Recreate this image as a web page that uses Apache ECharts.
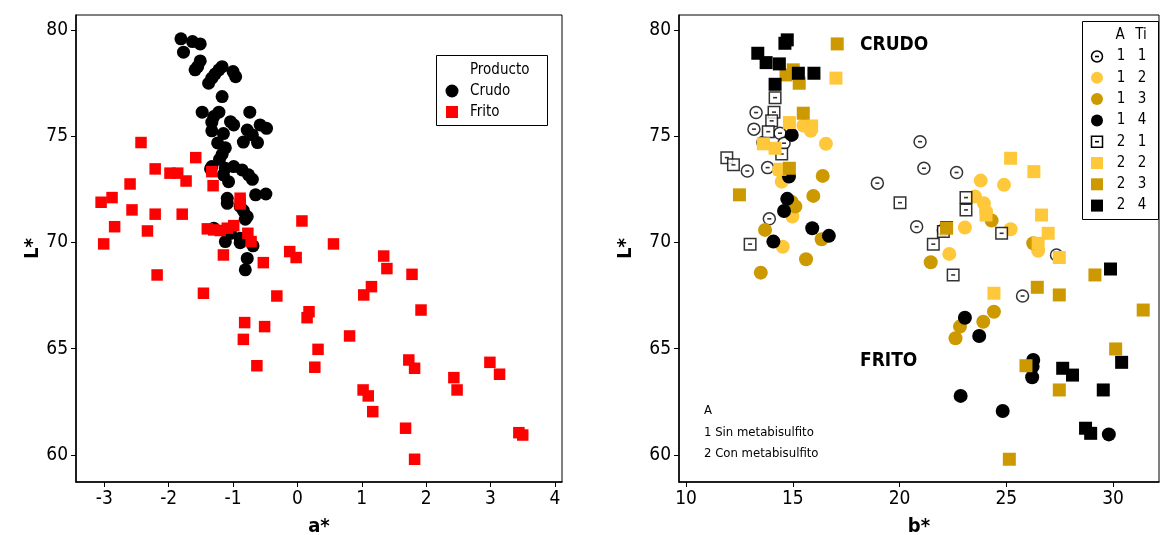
<!DOCTYPE html>
<html><head><meta charset="utf-8">
<script src="https://cdn.jsdelivr.net/npm/echarts@6/dist/echarts.min.js"></script>
<style>html,body{margin:0;padding:0;background:#fff}#c{width:1161px;height:535px}</style>
</head><body><div id="c"></div>
<script>
// ---------- DATA ----------
// Left panel: a* vs L*
const crudo = [[-1.81,79.58],[-1.63,79.45],[-1.51,79.34],[-1.77,78.95],[-1.51,78.54],[-1.55,78.27],[-1.59,78.12],[-1.17,78.27],[-1.22,78.12],[-1.28,77.92],[-1.33,77.73],[-1.38,77.49],[-1.00,78.04],[-0.96,77.80],[-1.17,76.86],[-1.48,76.13],[-1.22,76.13],[-1.30,75.92],[-0.74,76.13],[-1.33,75.66],[-1.04,75.68],[-0.99,75.53],[-0.58,75.53],[-0.48,75.37],[-1.33,75.25],[-1.15,75.12],[-0.78,75.29],[-0.70,75.06],[-0.84,74.72],[-0.62,74.70],[-1.24,74.68],[-1.12,74.45],[-1.17,74.15],[-1.21,73.91],[-1.33,73.57],[-1.35,73.46],[-1.12,73.49],[-0.99,73.57],[-0.86,73.41],[-0.76,73.18],[-0.70,72.97],[-1.15,73.18],[-1.07,72.86],[-0.65,72.24],[-0.49,72.28],[-1.09,72.08],[-1.09,71.84],[-0.89,71.69],[-0.84,71.50],[-0.78,71.22],[-0.81,71.09],[-1.30,70.67],[-1.09,70.59],[-1.04,70.43],[-1.12,70.04],[-0.89,70.20],[-0.89,69.99],[-0.69,69.84],[-0.78,69.25],[-0.81,68.71]];
const frito = [[-2.43,74.70],[-1.58,73.99],[-2.21,73.46],[-1.98,73.26],[-1.86,73.26],[-1.33,73.33],[-1.73,72.89],[-2.60,72.75],[-1.31,72.67],[-3.05,71.89],[-2.88,72.11],[-0.89,72.08],[-0.89,71.81],[-2.57,71.53],[-2.21,71.33],[-1.79,71.33],[0.07,71.01],[-2.84,70.74],[-2.33,70.54],[-1.40,70.64],[-1.30,70.59],[-1.20,70.56],[-1.09,70.67],[-0.99,70.79],[-0.77,70.43],[-0.72,70.04],[-3.01,69.93],[-1.15,69.41],[-0.53,69.05],[-0.12,69.57],[-0.02,69.29],[-2.18,68.47],[-1.46,67.61],[-0.32,67.48],[0.18,66.74],[0.15,66.46],[-0.82,66.23],[-0.51,66.04],[-0.84,65.44],[0.32,64.97],[-0.63,64.20],[0.27,64.13],[0.56,69.93],[1.34,69.36],[1.39,68.77],[1.78,68.50],[1.15,67.92],[1.03,67.53],[1.92,66.82],[0.81,65.60],[1.73,64.47],[1.82,64.08],[2.99,64.36],[3.14,63.80],[2.43,63.64],[2.48,63.06],[1.02,63.06],[1.10,62.78],[1.17,62.04],[1.68,61.26],[3.44,61.05],[3.50,60.94],[1.82,59.80]];
// Right panel: b* vs L*, groups A / Ti
const s11 = [[13.28,76.11],[13.18,75.33],[14.40,75.14],[14.59,74.67],[13.60,74.70],[12.87,73.36],[13.82,73.52],[13.90,71.11],[20.96,74.74],[21.14,73.49],[22.67,73.29],[18.96,72.79],[20.80,70.74],[22.05,70.59],[27.35,69.41],[25.76,67.48]];
const s12 = [[15.84,75.25],[15.50,75.50],[16.55,74.64],[14.35,73.41],[14.48,72.86],[14.98,71.22],[14.53,69.80],[23.80,72.91],[24.89,72.71],[23.53,72.16],[23.95,71.84],[24.05,71.45],[23.06,70.70],[25.20,70.62],[22.33,69.46],[26.49,69.61]];
const s13 = [[16.40,73.13],[15.96,72.19],[15.12,71.69],[14.95,71.90],[13.70,70.59],[16.35,70.15],[15.62,69.21],[13.50,68.58],[24.31,71.03],[26.26,69.96],[21.46,69.07],[24.42,66.74],[23.92,66.27],[22.83,66.04],[22.62,65.49]];
const s14 = [[14.95,75.06],[14.82,73.10],[14.74,72.05],[14.59,71.48],[15.91,70.67],[16.69,70.31],[14.09,70.04],[23.06,66.46],[23.73,65.60],[26.26,64.47],[26.23,64.16],[26.21,63.66],[22.86,62.78],[24.83,62.07],[29.80,60.97]];
const s21 = [[14.17,76.81],[14.12,76.13],[14.01,75.72],[13.85,75.21],[14.48,74.16],[11.91,73.99],[12.22,73.65],[13.00,69.92],[20.02,71.87],[23.11,72.11],[23.11,71.53],[22.20,70.70],[22.05,70.51],[21.58,69.92],[24.78,70.43],[22.51,68.47]];
const s22 = [[17.02,77.73],[14.84,75.64],[15.88,75.48],[13.62,74.64],[14.17,74.43],[14.40,73.44],[25.20,73.96],[26.29,73.33],[26.65,71.29],[26.96,70.43],[26.49,69.96],[27.48,69.29],[24.42,67.61],[24.05,71.29]];
const s23 = [[17.08,79.34],[15.02,78.12],[14.68,77.88],[15.30,77.49],[15.49,76.08],[14.84,73.49],[12.50,72.24],[22.20,70.67],[26.45,67.89],[27.48,67.53],[29.15,68.47],[31.41,66.82],[30.12,64.99],[25.92,64.20],[27.48,63.06],[25.14,59.80]];
const s24 = [[14.74,79.53],[14.63,79.37],[13.36,78.90],[13.75,78.46],[14.37,78.40],[15.26,77.96],[15.99,77.96],[14.17,77.44],[29.88,68.75],[30.40,64.36],[27.64,64.08],[28.10,63.76],[29.54,63.06],[28.71,61.26],[28.95,61.02]];

const aTicks = [-3,-2,-1,0,1,2,3,4];
const bTicks = [10,15,20,25,30];
const lTicks = [60,65,70,75,80];
const legendRows = [['1','1'],['1','2'],['1','3'],['1','4'],['2','1'],['2','2'],['2','3'],['2','4']];
const noteLines = ['A','1 Sin metabisulfito','2 Con metabisulfito'];

// ---------- STYLE ----------
const FONT = '"DejaVu Sans Condensed","DejaVu Sans",sans-serif';
const LY = '#FFC83A', DG = '#CC9900';

function xAx(idx, min, max, ticks, name){
  return {gridIndex:idx, type:'value', min, max, name, nameLocation:'middle', nameGap:35,
    nameTextStyle:{fontFamily:FONT, fontWeight:'bold', fontSize:20, color:'#000'},
    axisLine:{show:true, onZero:false, lineStyle:{color:'#000', width:1.5}},
    axisTick:{show:true, length:5, customValues:ticks, lineStyle:{color:'#000'}},
    axisLabel:{customValues:ticks, fontFamily:FONT, fontSize:19, color:'#000', margin:8},
    splitLine:{show:false}};
}
function yAx(idx, gap){
  return {gridIndex:idx, type:'value', min:58.73, max:80.7, name:'L*', nameLocation:'middle', nameGap:gap, nameRotate:90,
    nameTextStyle:{fontFamily:FONT, fontWeight:'bold', fontSize:20, color:'#000'},
    axisLine:{show:true, onZero:false, lineStyle:{color:'#000', width:1.5}},
    axisTick:{show:true, length:5, customValues:lTicks, lineStyle:{color:'#000'}},
    axisLabel:{customValues:lTicks, fontFamily:FONT, fontSize:19, color:'#000', margin:8},
    splitLine:{show:false}};
}
function sc(name, data, xi, symbol, size, color, extra){
  return Object.assign({type:'scatter', name, data, xAxisIndex:xi, yAxisIndex:xi, symbol, symbolSize:size,
    itemStyle:{color, opacity:1}, emphasis:{disabled:true}, animation:false}, extra||{});
}
function dash(data){
  return {type:'scatter', data, xAxisIndex:1, yAxisIndex:1, symbol:'rect', symbolSize:[4,1.6], silent:true,
    itemStyle:{color:'#000'}, animation:false};
}

// legend graphics
const g = [];
// left legend
g.push({type:'rect', shape:{x:436.5,y:55.5,width:111,height:70}, style:{fill:'#fff', stroke:'#000', lineWidth:1}, z:100});
g.push({type:'text', x:470, y:70, style:{text:'Producto', font:'15px '+FONT, fill:'#000', verticalAlign:'middle'}, z:101});
g.push({type:'circle', shape:{cx:452, cy:91, r:6.5}, style:{fill:'#000'}, z:101});
g.push({type:'text', x:470, y:91, style:{text:'Crudo', font:'15px '+FONT, fill:'#000', verticalAlign:'middle'}, z:101});
g.push({type:'rect', shape:{x:446, y:106, width:12, height:12}, style:{fill:'#FF0000'}, z:101});
g.push({type:'text', x:470, y:112, style:{text:'Frito', font:'15px '+FONT, fill:'#000', verticalAlign:'middle'}, z:101});
// right legend
g.push({type:'rect', shape:{x:1082.5,y:21.5,width:76,height:198}, style:{fill:'#fff', stroke:'#000', lineWidth:1}, z:100});
g.push({type:'text', x:1120, y:35, style:{text:'A', font:'15px '+FONT, fill:'#000', align:'center', verticalAlign:'middle'}, z:101});
g.push({type:'text', x:1141, y:35, style:{text:'Ti', font:'15px '+FONT, fill:'#000', align:'center', verticalAlign:'middle'}, z:101});
const legSym = [
  {t:'oc'},{t:'c',c:LY},{t:'c',c:DG},{t:'c',c:'#000'},
  {t:'os'},{t:'s',c:LY},{t:'s',c:DG},{t:'s',c:'#000'}];
legendRows.forEach((r,i)=>{
  const y = 56.5 + i*21.3, x = 1097;
  const s = legSym[i];
  if (s.t==='c') g.push({type:'circle', shape:{cx:x, cy:y, r:6}, style:{fill:s.c}, z:101});
  if (s.t==='s') g.push({type:'rect', shape:{x:x-6, y:y-6, width:12, height:12}, style:{fill:s.c}, z:101});
  if (s.t==='oc') g.push({type:'circle', shape:{cx:x, cy:y, r:5.5}, style:{fill:'#fff', stroke:'#000', lineWidth:1.5}, z:101});
  if (s.t==='os') g.push({type:'rect', shape:{x:x-5.5, y:y-5.5, width:11, height:11}, style:{fill:'#fff', stroke:'#000', lineWidth:1.5}, z:101});
  if (s.t==='oc'||s.t==='os') g.push({type:'rect', shape:{x:x-2, y:y-0.8, width:4, height:1.6}, style:{fill:'#000'}, z:102});
  g.push({type:'text', x:1121, y:y, style:{text:r[0], font:'15px '+FONT, fill:'#000', align:'center', verticalAlign:'middle'}, z:101});
  g.push({type:'text', x:1142, y:y, style:{text:r[1], font:'15px '+FONT, fill:'#000', align:'center', verticalAlign:'middle'}, z:101});
});
// annotations
g.push({type:'text', x:860, y:45, style:{text:'CRUDO', font:'bold 19px '+FONT, fill:'#000', verticalAlign:'middle'}, z:101});
g.push({type:'text', x:860, y:361, style:{text:'FRITO', font:'bold 19px '+FONT, fill:'#000', verticalAlign:'middle'}, z:101});
noteLines.forEach((t,i)=>{
  g.push({type:'text', x:704, y:411+i*21.5, style:{text:t, font:'13px '+FONT, fill:'#000', verticalAlign:'middle'}, z:101});
});

const option = {
  backgroundColor:'#fff',
  animation:false,
  grid:[
    {left:76, top:15, width:486, height:467, show:true, borderColor:'#000', borderWidth:1, backgroundColor:'transparent', outerBoundsMode:'none', containLabel:false},
    {left:679, top:15, width:480, height:467, show:true, borderColor:'#000', borderWidth:1, backgroundColor:'transparent', outerBoundsMode:'none', containLabel:false}
  ],
  xAxis:[xAx(0,-3.44,4.11,aTicks,'a*'), xAx(1,9.67,32.15,bTicks,'b*')],
  yAxis:[yAx(0,26), yAx(1,43)],
  graphic:g,
  series:[
    sc('Crudo', crudo, 0, 'circle', 13, '#000'),
    sc('Frito', frito, 0, 'rect', 11.5, '#FF0000'),
    sc('1 1', s11, 1, 'circle', 12, '#fff', {itemStyle:{color:'#fff', borderColor:'#000', borderWidth:1.5}}),
    dash(s11),
    sc('1 2', s12, 1, 'circle', 14, LY),
    sc('1 3', s13, 1, 'circle', 14, DG),
    sc('1 4', s14, 1, 'circle', 14, '#000'),
    sc('2 1', s21, 1, 'rect', 11.5, '#fff', {itemStyle:{color:'#fff', borderColor:'#000', borderWidth:1.5}}),
    dash(s21),
    sc('2 2', s22, 1, 'rect', 13, LY),
    sc('2 3', s23, 1, 'rect', 13, DG),
    sc('2 4', s24, 1, 'rect', 13, '#000')
  ]
};
const chart = echarts.init(document.getElementById('c'), null, {renderer:'canvas'});
chart.setOption(option);
</script></body></html>
